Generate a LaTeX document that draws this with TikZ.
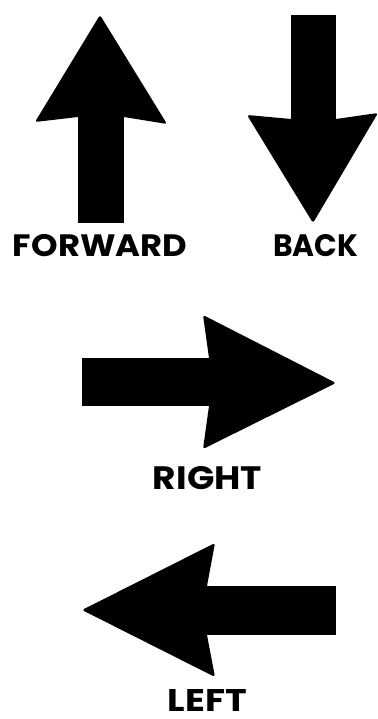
\documentclass[tikz,border=0pt]{standalone}
\usepackage{fontspec}
\setmainfont{Poppins}
\usepackage{graphicx}
\tikzset{
  headshape/.style={fill=black, rounded corners=2.5pt},
  shaftshape/.style={fill=black},
  lbl/.style={inner sep=0pt, font=\bfseries}
}
\begin{document}
\begin{tikzpicture}[x=1pt,y=-1pt]
\useasboundingbox[fill=white] (0,0) rectangle (377,719);
% FORWARD (up)
\fill[shaftshape] (78,112) rectangle (124,223);
\fill[headshape] (78,117) -- (35,122) -- (100,15) -- (167,124) -- (124,117) -- cycle;
% BACK (down)
\fill[shaftshape] (291,15) rectangle (336,124);
\fill[headshape] (291,119) -- (247,115) -- (313,223) -- (378,113) -- (336,119) -- cycle;
% RIGHT
\fill[shaftshape] (82,358) rectangle (214,406);
\fill[headshape] (209,358) -- (203,315) -- (336,383) -- (203,449) -- (209,406) -- cycle;
% LEFT
\fill[shaftshape] (202,586) rectangle (336,635);
\fill[headshape] (207,586) -- (215,543) -- (82,610) -- (215,677) -- (207,635) -- cycle;
\node[lbl] (fwd) at (100,246) {\resizebox{174pt}{22pt}{FORWARD}};
\node[lbl] (back) at (315.5,246) {\resizebox{85pt}{22pt}{BACK}};
\node[lbl] (right) at (207.5,478.5) {\resizebox{109pt}{23pt}{RIGHT}};
\node[lbl] (left) at (207.5,700) {\resizebox{79pt}{22pt}{LEFT}};
\end{tikzpicture}
\end{document}
